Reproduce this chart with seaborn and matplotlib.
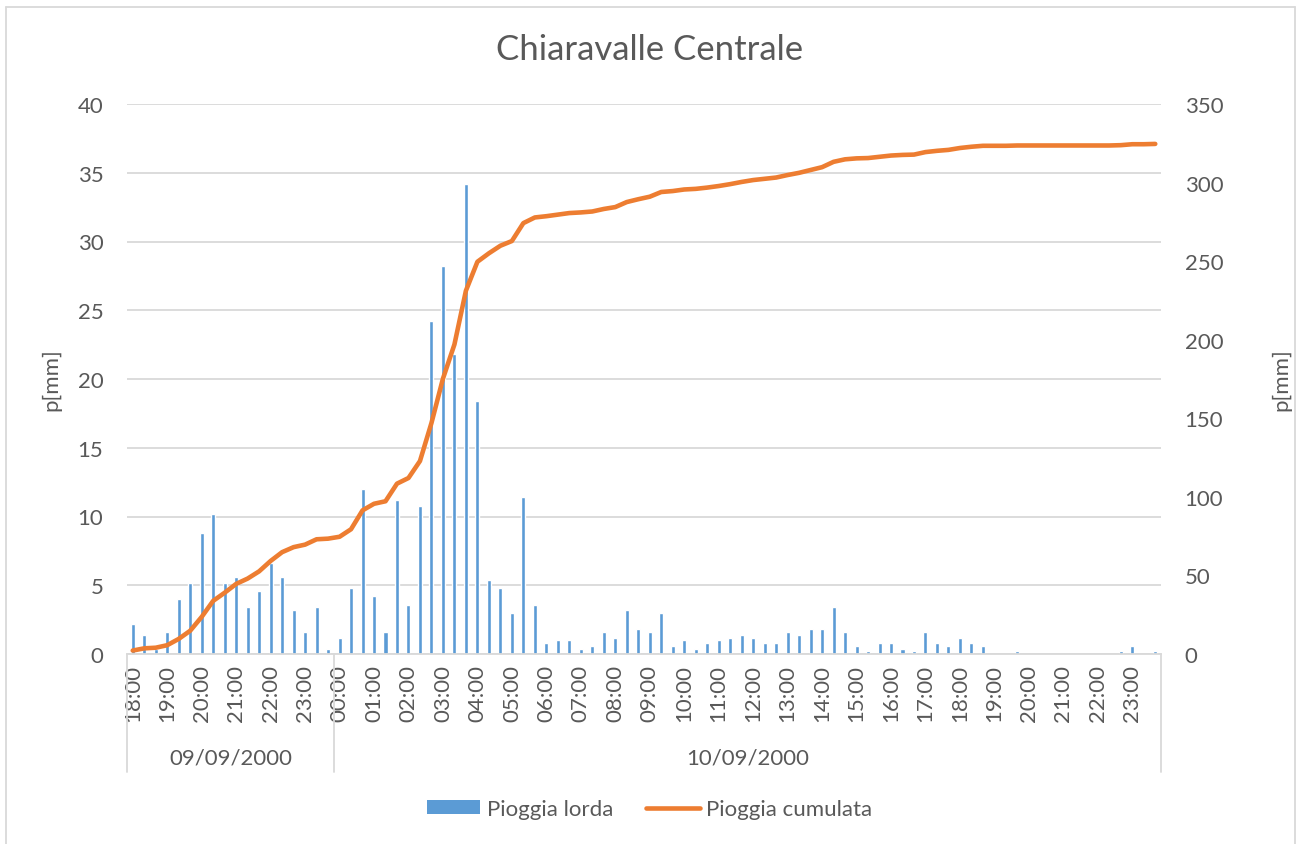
import pandas as pd
import numpy as np
import matplotlib
matplotlib.use('Agg')
import matplotlib.pyplot as plt
from matplotlib.patches import Patch
from matplotlib.lines import Line2D
import seaborn as sns

# intervalli di 20 minuti dal 09/09/2000 18:00 al 10/09/2000 23:40
orari = pd.date_range('2000-09-09 18:00', periods=90, freq='20min')

# pioggia lorda [mm] per intervallo
pioggia_lorda = [2.2, 1.4, 0.4, 1.6, 4.0, 5.2, 8.8, 10.2, 5.2, 5.6, 3.4, 4.6,
                 6.6, 5.6, 3.2, 1.6, 3.4, 0.4,
                 1.2, 4.8, 12.0, 4.2, 1.6, 11.2, 3.6, 10.8, 24.2, 28.2, 21.8, 34.2,
                 18.4, 5.4, 4.8, 3.0, 11.4, 3.6, 0.8, 1.0, 1.0, 0.4, 0.6, 1.6,
                 1.2, 3.2, 1.8, 1.6, 3.0, 0.6, 1.0, 0.4, 0.8, 1.0, 1.2, 1.4,
                 1.2, 0.8, 0.8, 1.6, 1.4, 1.8, 1.8, 3.4, 1.6, 0.6, 0.2, 0.8,
                 0.8, 0.4, 0.2, 1.6, 0.8, 0.6, 1.2, 0.8, 0.6, 0.0, 0.0, 0.2,
                 0.0, 0.0, 0.0, 0.0, 0.0, 0.0, 0.0, 0.0, 0.2, 0.6, 0.0, 0.2]

# pioggia cumulata [mm]
pioggia_cumulata = [2.2, 3.6, 4.0, 5.6, 9.6, 14.8, 23.6, 33.8, 39.0, 44.6, 48.0, 52.6,
                    59.2, 64.8, 68.0, 69.6, 73.0, 73.4,
                    74.6, 79.4, 91.4, 95.6, 97.2, 108.4, 112.0, 122.8, 147.0, 175.2, 197.0, 231.2,
                    249.6, 255.0, 259.8, 262.8, 274.2, 277.8, 278.6, 279.6, 280.6, 281.0, 281.6, 283.2,
                    284.4, 287.6, 289.4, 291.0, 294.0, 294.6, 295.6, 296.0, 296.8, 297.8, 299.0, 300.4,
                    301.6, 302.4, 303.2, 304.8, 306.2, 308.0, 309.8, 313.2, 314.8, 315.4, 315.6, 316.4,
                    317.2, 317.6, 317.8, 319.4, 320.2, 320.8, 322.0, 322.8, 323.4, 323.4, 323.4, 323.6,
                    323.6, 323.6, 323.6, 323.6, 323.6, 323.6, 323.6, 323.6, 323.8, 324.4, 324.4, 324.6]

giorni = ['09/09/2000', '10/09/2000']

df = pd.DataFrame({'pos': np.arange(len(orari)),
                   'lorda': pioggia_lorda,
                   'cumulata': pioggia_cumulata})

sns.set_style('white')
plt.rcParams['font.family'] = ['Lato', 'DejaVu Sans']
grigio = '#595959'
blu = '#5B9BD5'
arancio = '#ED7D31'
fs = 16

fig = plt.figure(figsize=(12.99, 8.45), dpi=100)
ax = fig.add_axes([127/1299, 1-655/845, (1161-127)/1299, 550/845])

sns.barplot(x='pos', y='lorda', data=df, color=blu, saturation=1, width=0.35, ax=ax)
ax.set_xlim(-0.5, len(orari)-0.5)
ax.set_ylim(0, 40)
ax.set_yticks(np.arange(0, 41, 5))
ax.yaxis.grid(True, color='#D9D9D9', linewidth=1.3)
ax.set_axisbelow(True)
for s in ['top', 'right', 'left']:
    ax.spines[s].set_visible(False)
ax.spines['bottom'].set_color('#D9D9D9')
ax.spines['bottom'].set_linewidth(1.3)

tick_pos = df['pos'][::3]
ax.set_xticks(tick_pos)
ax.set_xticklabels([t.strftime('%H:%M') for t in orari[::3]], rotation=90)
ax.tick_params(axis='x', length=0, pad=7, labelsize=fs, labelcolor=grigio)
ax.tick_params(axis='y', length=0, pad=17, labelsize=fs, labelcolor=grigio)
ax.set_xlabel('')
ax.set_ylabel('p[mm]', fontsize=fs, color=grigio)
ax.yaxis.set_label_coords(-0.063, 0.5)

ax2 = ax.twinx()
sns.lineplot(x='pos', y='cumulata', data=df, color=arancio, linewidth=3.3, ax=ax2,
             solid_capstyle='round', solid_joinstyle='round')
ax2.set_ylim(0, 350)
ax2.set_yticks(np.arange(0, 351, 50))
ax2.tick_params(axis='y', length=0, pad=17, labelsize=fs, labelcolor=grigio)
for s in ax2.spines.values():
    s.set_visible(False)
ax2.set_ylabel('p[mm]', fontsize=fs, color=grigio, rotation=90)
ax2.yaxis.set_label_coords(1.107, 0.5)
ax2.set_xlim(-0.5, len(orari)-0.5)

# separatori dei giorni sotto l'asse
trans = ax.get_xaxis_transform()
for xs in [-0.5, 17.5, len(orari)-0.5]:
    ax.plot([xs, xs], [0, -0.215], transform=trans, color='#D9D9D9', linewidth=1.3, clip_on=False)
ax.text(8.5, -0.188, giorni[0], transform=trans, ha='center', va='center', fontsize=fs, color=grigio)
ax.text(53.5, -0.188, giorni[1], transform=trans, ha='center', va='center', fontsize=fs, color=grigio)

fig.suptitle('Chiaravalle Centrale', x=0.5, y=1-50/845, va='center', fontsize=25, color=grigio)

handles = [Patch(facecolor=blu, edgecolor='none'),
           Line2D([0], [0], color=arancio, linewidth=3.3, solid_capstyle='round')]
fig.legend(handles, ['Pioggia lorda', 'Pioggia cumulata'], loc='center',
           bbox_to_anchor=(0.5, 1-810/845), ncol=2, frameon=False, fontsize=fs,
           labelcolor=grigio, handlelength=2.4, handleheight=0.6, handletextpad=0.3,
           columnspacing=1.5)

# bordo dell'area del grafico
for xy in [([6/1299, 6/1299], [0, 1-8/845]),
           ([1295/1299, 1295/1299], [0, 1-8/845]),
           ([6/1299, 1295/1299], [1-8/845, 1-8/845])]:
    fig.add_artist(Line2D(xy[0], xy[1], color='#D9D9D9', linewidth=1.3))

plt.savefig('out.png', dpi=100)
